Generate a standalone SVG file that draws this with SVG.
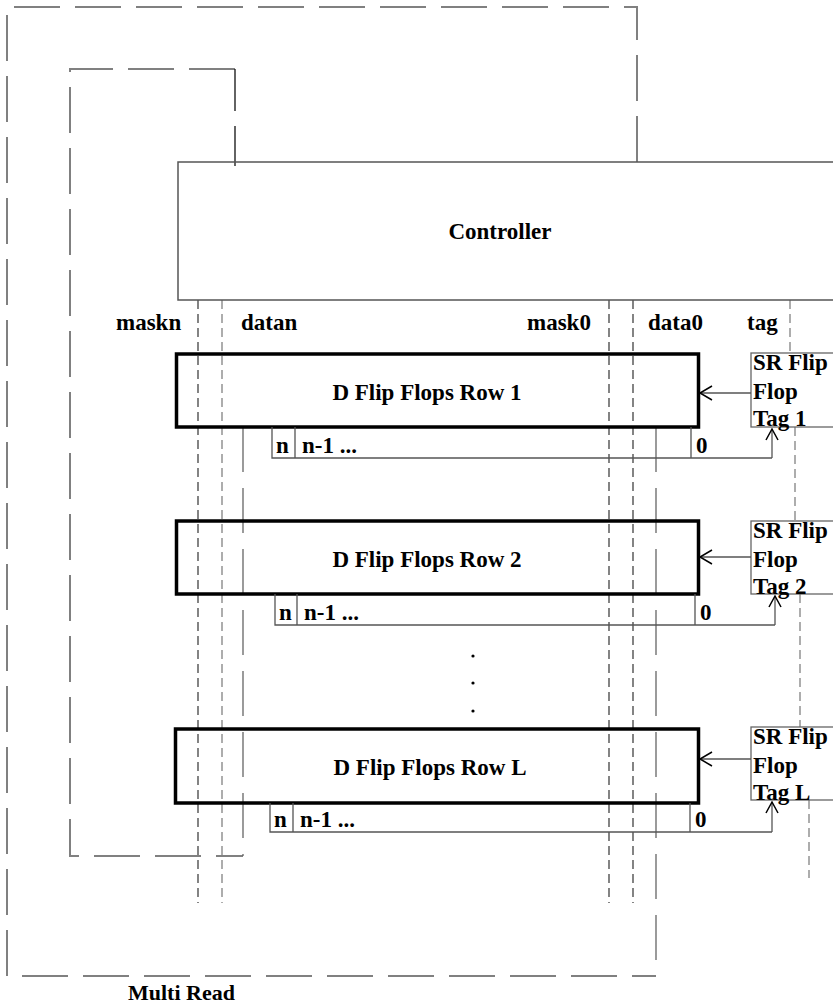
<svg xmlns="http://www.w3.org/2000/svg" width="833" height="1008" viewBox="0 0 833 1008">
<style>
text{font-family:"Liberation Serif","Times New Roman",serif;font-weight:bold;font-size:23px;fill:#000}
.mid{text-anchor:middle}
.bigdash{fill:none;stroke:#808080;stroke-width:2;stroke-dasharray:46 15}
.thindash{fill:none;stroke:#666;stroke-width:1.3;stroke-dasharray:45 16}
.sig{fill:none;stroke:#333;stroke-width:1.2;stroke-dasharray:9 5}
.sig2{fill:none;stroke:#777;stroke-width:1.2;stroke-dasharray:9 5}
.row{fill:none;stroke:#000;stroke-width:3.5}
.sr{fill:#fff;stroke:#666;stroke-width:1.3}
.ln{fill:none;stroke:#555;stroke-width:1.3}
.arr{fill:none;stroke:#000;stroke-width:1.5}
</style>
<g id="connectors">
<path class="bigdash" d="M637,162 V7 H7 V976 H656"/>
<path class="thindash" d="M656,427 V976"/>
<path class="bigdash" d="M235,69 H70 V856 H243"/>
<path d="M235,69 V166" fill="none" stroke="#111" stroke-width="1.3" stroke-dasharray="42 15"/>
<path class="thindash" d="M243,427 V856"/>
<line class="sig" x1="198" y1="300" x2="198" y2="903"/>
<line class="sig2" x1="222" y1="300" x2="222" y2="903"/>
<line class="sig" x1="609" y1="300" x2="609" y2="903"/>
<line class="sig" x1="633" y1="300" x2="633" y2="903"/>
<line class="sig2" x1="790" y1="300" x2="790" y2="353"/>
<line class="sig2" x1="795" y1="427" x2="795" y2="521"/>
<line class="sig2" x1="800" y1="594" x2="800" y2="727"/>
<line class="sig2" x1="809" y1="800" x2="809" y2="878"/>
</g>
<g id="controller">
<rect x="178" y="162" width="670" height="138" fill="none" stroke="#555" stroke-width="1.5"/>
<text class="mid" x="500" y="239">Controller</text>
</g>
<g id="labels">
<text x="116" y="330">maskn</text>
<text x="241" y="330">datan</text>
<text x="527" y="330">mask0</text>
<text x="648" y="330">data0</text>
<text x="747" y="330">tag</text>
</g>
<g id="row1">
<rect class="row" x="176.5" y="354" width="522" height="73"/>
<text class="mid" x="427" y="400">D Flip Flops Row 1</text>
<path class="ln" d="M272,427 V458 H772 M295,427 V458 M691,427 V458"/>
<text x="276" y="453">n</text>
<text x="302" y="453">n-1 ...</text>
<text x="696" y="453">0</text>
<path class="ln" d="M772,458 V429"/>
<path class="arr" d="M766,440 L772,429 L778,440"/>
</g>
<g id="sr1">
<rect class="sr" x="751" y="353" width="100" height="74"/>
<text x="753" y="370">SR Flip</text>
<text x="753" y="399">Flop</text>
<text x="753" y="426">Tag 1</text>
<path class="ln" d="M751,393 H700"/>
<path class="arr" d="M712,386 L700,393 L712,400"/>
</g>
<g id="row2">
<rect class="row" x="176.5" y="521" width="522" height="73"/>
<text class="mid" x="427" y="567">D Flip Flops Row 2</text>
<path class="ln" d="M275,594 V625 H775 M297,594 V625 M695,594 V625"/>
<text x="279" y="620">n</text>
<text x="304" y="620">n-1 ...</text>
<text x="700" y="620">0</text>
<path class="ln" d="M775,625 V596"/>
<path class="arr" d="M769,607 L775,596 L781,607"/>
</g>
<g id="sr2">
<rect class="sr" x="751" y="521" width="100" height="73"/>
<text x="753" y="538">SR Flip</text>
<text x="753" y="567">Flop</text>
<text x="753" y="594">Tag 2</text>
<path class="ln" d="M751,557 H700"/>
<path class="arr" d="M712,550 L700,557 L712,564"/>
</g>
<g id="dots">
<circle cx="473" cy="656" r="1.6" fill="#000"/>
<circle cx="473" cy="683" r="1.6" fill="#000"/>
<circle cx="473" cy="711" r="1.6" fill="#000"/>
</g>
<g id="rowL">
<rect class="row" x="175.5" y="729" width="523" height="74"/>
<text class="mid" x="430" y="775">D Flip Flops Row L</text>
<path class="ln" d="M270,803 V832 H772 M293,803 V832 M690,803 V832"/>
<text x="274" y="827">n</text>
<text x="300" y="827">n-1 ...</text>
<text x="695" y="827">0</text>
<path class="ln" d="M772,832 V802"/>
<path class="arr" d="M766,813 L772,802 L778,813"/>
</g>
<g id="srL">
<rect class="sr" x="751" y="727" width="100" height="73"/>
<text x="753" y="744">SR Flip</text>
<text x="753" y="773">Flop</text>
<text x="753" y="800">Tag L</text>
<path class="ln" d="M751,759 H700"/>
<path class="arr" d="M712,752 L700,759 L712,766"/>
</g>
<g id="multiread">
<text x="128" y="1000" style="font-size:22px">Multi Read</text>
</g>
</svg>
